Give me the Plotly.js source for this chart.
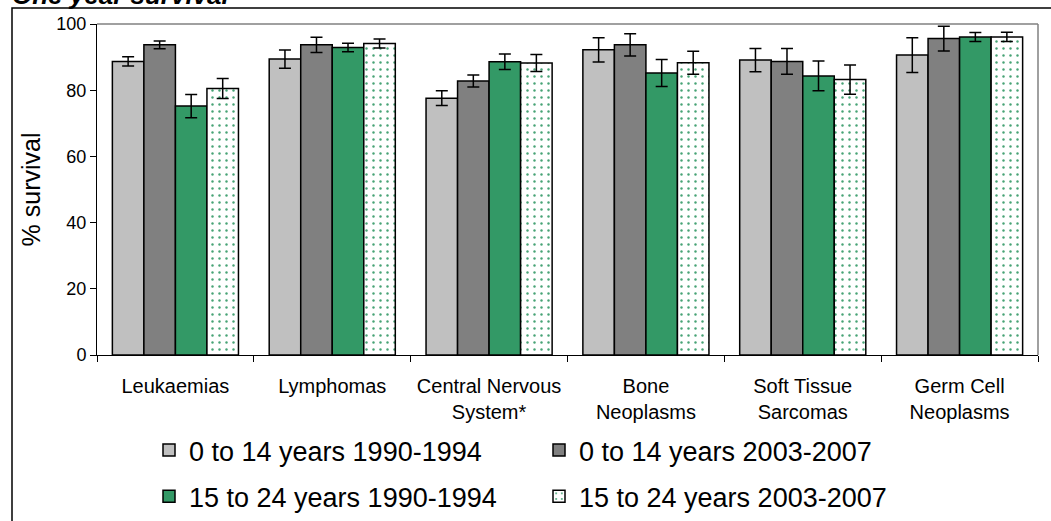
<!DOCTYPE html>
<html>
<head>
<meta charset="utf-8">
<script src="https://cdn.plot.ly/plotly-3.0.1.min.js"></script>
<style>html,body{margin:0;padding:0;background:#fff;}#chart{width:1051px;height:521px;}</style>
</head>
<body>
<div id="chart"></div>
<script>
var categories = ["Leukaemias", "Lymphomas", "Central Nervous<br>System*", "Bone<br>Neoplasms", "Soft Tissue<br>Sarcomas", "Germ Cell<br>Neoplasms"];
var seriesNames = ["0 to 14 years 1990-1994", "0 to 14 years 2003-2007", "15 to 24 years 1990-1994", "15 to 24 years 2003-2007"];
var child1990 = [88.7, 89.4, 77.6, 92.2, 89.1, 90.6];
var child1990Err = [1.4, 2.75, 2.2, 3.65, 3.5, 5.25];
var child2003 = [93.7, 93.7, 82.8, 93.7, 88.7, 95.6];
var child2003Err = [1.2, 2.3, 1.8, 3.35, 3.9, 3.75];
var teen1990 = [75.2, 92.9, 88.6, 85.2, 84.3, 96.1];
var teen1990Err = [3.5, 1.3, 2.35, 4.1, 4.5, 1.35];
var teen2003 = [80.5, 94.1, 88.2, 88.3, 83.2, 96.1];
var teen2003Err = [3.0, 1.35, 2.55, 3.5, 4.45, 1.4];
var yTicks = [0, 20, 40, 60, 80, 100];

var line = {color: '#000000', width: 1.5};
function err(a) { return {type: 'data', array: a, visible: true, color: '#000000', thickness: 1.5, width: 6}; }

var traces = [
  {type: 'bar', name: seriesNames[0], x: categories, y: child1990, error_y: err(child1990Err),
   marker: {color: '#C0C0C0', line: line}, legend: 'legend', legendgroup: 'a'},
  {type: 'bar', name: seriesNames[1], x: categories, y: child2003, error_y: err(child2003Err),
   marker: {color: '#808080', line: line}, legend: 'legend2', legendgroup: 'b'},
  {type: 'bar', name: seriesNames[2], x: categories, y: teen1990, error_y: err(teen1990Err),
   marker: {color: '#339966', line: line}, legend: 'legend', legendgroup: 'c'},
  {type: 'bar', name: seriesNames[3], x: categories, y: teen2003, error_y: err(teen2003Err),
   marker: {color: '#FFFFFF', line: line,
     pattern: {shape: '.', fgcolor: '#339966', bgcolor: '#FFFFFF', size: 7, solidity: 0.1, fgopacity: 0.9}},
   legend: 'legend2', legendgroup: 'd'}
];

var font = 'Arial, "Liberation Sans", sans-serif';
var legendCommon = {
  orientation: 'v', xref: 'paper', yref: 'paper', xanchor: 'left', yanchor: 'top',
  font: {family: font, size: 27, color: '#000'}, bgcolor: 'rgba(0,0,0,0)',
  tracegroupgap: 8, traceorder: 'grouped', itemclick: false, itemdoubleclick: false
};

var layout = {
  width: 1051, height: 521,
  margin: {l: 97, r: 13, t: 24, b: 166, autoexpand: false},
  paper_bgcolor: '#FFFFFF', plot_bgcolor: '#FFFFFF',
  barmode: 'group', bargap: 0.196, bargroupgap: 0,
  font: {family: font, color: '#000'},
  xaxis: {
    type: 'category', showline: true, linecolor: '#000', linewidth: 1,
    ticks: 'outside', tickson: 'boundaries', ticklen: 6, tickcolor: '#000', tickwidth: 1,
    tickfont: {family: font, size: 20, color: '#000'}, showgrid: false, zeroline: false,
    ticklabelstandoff: 13, automargin: false, fixedrange: true
  },
  yaxis: {
    range: [0, 100], tickvals: yTicks, ticktext: yTicks.map(String),
    showline: true, linecolor: '#000', linewidth: 1,
    ticks: 'outside', ticklen: 6, tickcolor: '#000', tickwidth: 1,
    tickfont: {family: font, size: 18, color: '#000'}, showgrid: false, zeroline: false,
    title: {text: '% survival', font: {family: font, size: 25, color: '#000'}, standoff: 8},
    automargin: false, fixedrange: true
  },
  legend: Object.assign({}, legendCommon, {x: (149 - 97) / 941, y: (355 - 426) / 331}),
  legend2: Object.assign({}, legendCommon, {x: (539 - 97) / 941, y: (355 - 426) / 331}),
  shapes: [
    {type: 'line', xref: 'paper', yref: 'paper', x0: 0, x1: 1, y0: 1, y1: 1, line: {color: '#808080', width: 1.5}, layer: 'below'},
    {type: 'line', xref: 'paper', yref: 'paper', x0: 1, x1: 1, y0: 0, y1: 1, line: {color: '#808080', width: 1.5}, layer: 'below'},
    {type: 'rect', xref: 'paper', yref: 'paper', x0: (12 - 97) / 941, x1: (1070 - 97) / 941,
     y0: (355 - 540) / 331, y1: (355 - 8) / 331, line: {color: '#000', width: 1.5}, fillcolor: 'rgba(0,0,0,0)', layer: 'below'}
  ],
  annotations: [
    {text: '<b><i>One year survival</i></b>', xref: 'paper', yref: 'paper', x: (10 - 97) / 941, xanchor: 'left',
     y: (355 - 12) / 331, yanchor: 'bottom', showarrow: false, font: {family: font, size: 26, color: '#000'}}
  ]
};

Plotly.newPlot('chart', traces, layout, {displayModeBar: false, staticPlot: true});
</script>
</body>
</html>
